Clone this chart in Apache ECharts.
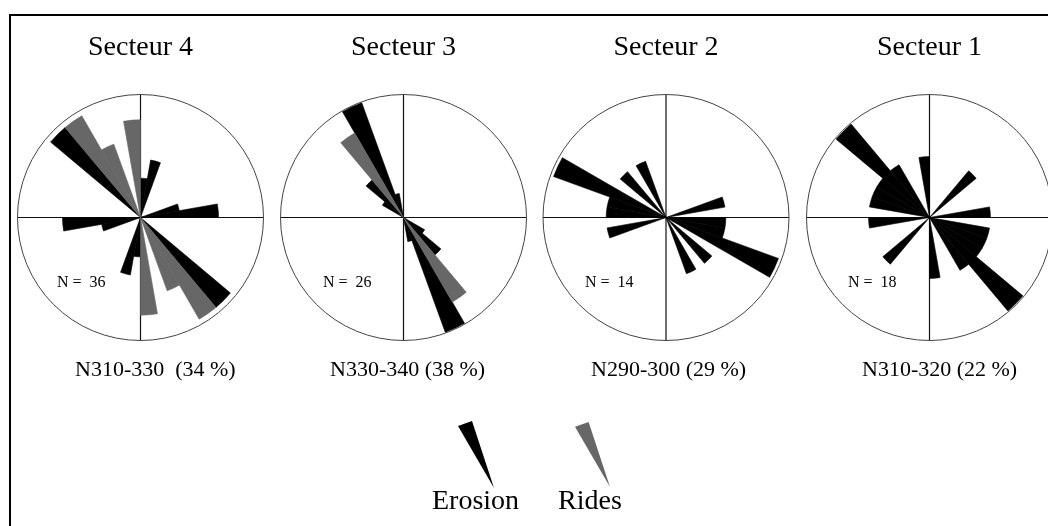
<!DOCTYPE html>
<html>
<head>
<meta charset="utf-8">
<script src="https://cdn.jsdelivr.net/npm/echarts@6/dist/echarts.min.js"></script>
<style>
  html, body { margin: 0; padding: 0; background: #fff; }
  #main { width: 1048px; height: 526px; }
</style>
</head>
<body>
<div id="main"></div>
<script>
// azimuth classes of 10 degrees, N = 0, clockwise
var bins = [];
for (var b = 0; b < 360; b += 10) bins.push(b + '-' + (b + 10));

// percentages per 10° class from 0 to 180; axial data, so each class repeats at +180
var sectorNames = ['Secteur 4', 'Secteur 3', 'Secteur 2', 'Secteur 1'];
var erosion4 = [5.6, 8.3, 0, 0, 0, 0, 0, 5.6, 11.1, 0, 0, 0, 0, 16.7, 0, 0, 0, 0];
var rides4   = [0, 0, 0, 0, 0, 0, 0, 0, 0, 0, 0, 0, 0, 0, 16.7, 11.1, 0, 13.9];
var erosion3 = [0, 0, 0, 0, 0, 0, 0, 0, 0, 0, 0, 0, 7.7, 15.4, 0, 38.5, 7.7, 0];
var rides3   = [0, 0, 0, 0, 0, 0, 0, 0, 0, 0, 0, 0, 0, 0, 30.8, 0, 0, 0];
var erosion2 = [0, 0, 0, 0, 0, 0, 0, 14.3, 0, 14.3, 14.3, 28.6, 0, 14.3, 0, 14.3, 0, 0];
var rides2   = [0, 0, 0, 0, 0, 0, 0, 0, 0, 0, 0, 0, 0, 0, 0, 0, 0, 0];
var erosion1 = [0, 0, 0, 0, 11.1, 0, 0, 0, 11.1, 0, 11.1, 11.1, 11.1, 22.2, 11.1, 0, 0, 11.1];
var rides1   = [0, 0, 0, 0, 0, 0, 0, 0, 0, 0, 0, 0, 0, 0, 0, 0, 0, 0];
var scaleMax = [17.5, 38.8, 29.4, 22.4];           // percent at the circle
var counts   = ['N =  36', 'N =  26', 'N =  14', 'N =  18'];
var modes    = ['N310-330  (34 %)', 'N330-340 (38 %)', 'N290-300 (29 %)', 'N310-320 (22 %)'];

var erosion = [erosion4, erosion3, erosion2, erosion1];
var rides = [rides4, rides3, rides2, rides1];

var centersX = [140.5, 403.5, 666, 929.5];
var modeLeft = [75, 330, 591, 862];
var countLeft = [57, 323, 585, 848];
var serif = 'Liberation Serif';

function axial(half) { return half.concat(half); }

var dom = document.getElementById('main');
var myChart = echarts.init(dom, null, { renderer: 'canvas' });

var titles = [];
var polars = [];
var angleAxes = [];
var radiusAxes = [];
var series = [];

sectorNames.forEach(function (name, k) {
    titles.push({ text: name, left: centersX[k], top: 47.5, padding: 0,
        textAlign: 'center', textVerticalAlign: 'middle',
        textStyle: { fontFamily: serif, fontSize: 28, fontWeight: 'normal', color: '#000' } });
    titles.push({ text: counts[k], left: countLeft[k], top: 282.5, padding: 0,
        textVerticalAlign: 'middle',
        textStyle: { fontFamily: serif, fontSize: 16, fontWeight: 'normal', color: '#000' } });
    titles.push({ text: modes[k], left: modeLeft[k], top: 370.5, padding: 0,
        textVerticalAlign: 'middle',
        textStyle: { fontFamily: serif, fontSize: 22, fontWeight: 'normal', color: '#000' } });

    polars.push({ center: [centersX[k], 217.5], radius: 123 });
    angleAxes.push({
        polarIndex: k,
        type: 'category',
        data: bins,
        startAngle: 90,
        clockwise: true,
        boundaryGap: true,
        axisLine: { show: true, lineStyle: { color: '#444', width: 1 } },
        axisTick: { show: true, interval: 8, length: 0, lineStyle: { opacity: 0 } },
        axisLabel: { show: false },
        splitLine: { show: true, interval: 8, lineStyle: { color: '#111', width: 1.2 } }
    });
    radiusAxes.push({
        polarIndex: k,
        type: 'value',
        min: 0,
        max: scaleMax[k],
        axisLine: { show: false },
        axisTick: { show: false },
        axisLabel: { show: false },
        splitLine: { show: false }
    });
    series.push({
        name: 'Erosion', type: 'bar', coordinateSystem: 'polar', polarIndex: k,
        data: axial(erosion[k]), barCategoryGap: '0%', barGap: '-100%',
        itemStyle: { color: '#000', borderColor: '#000', borderWidth: 0.6 }, silent: true
    });
    series.push({
        name: 'Rides', type: 'bar', coordinateSystem: 'polar', polarIndex: k,
        data: axial(rides[k]), barCategoryGap: '0%', barGap: '-100%',
        itemStyle: { color: '#676767', borderColor: '#676767', borderWidth: 0.6 }, silent: true
    });
});

titles.push({ text: 'Erosion', left: 432, top: 501.5, padding: 0, textVerticalAlign: 'middle',
    textStyle: { fontFamily: serif, fontSize: 28, fontWeight: 'normal', color: '#000' } });
titles.push({ text: 'Rides', left: 558, top: 501.5, padding: 0, textVerticalAlign: 'middle',
    textStyle: { fontFamily: serif, fontSize: 28, fontWeight: 'normal', color: '#000' } });

var wedgeIcon = 'path://M0,5L14,0L36,67Z';

var option = {
    backgroundColor: '#fff',
    animation: false,
    title: titles,
    legend: [
        { data: [{ name: 'Erosion', icon: wedgeIcon }], left: 458, top: 421, padding: 0,
          itemWidth: 36, itemHeight: 67, selectedMode: false, itemStyle: { borderWidth: 0 },
          formatter: function () { return ''; } },
        { data: [{ name: 'Rides', icon: wedgeIcon }], left: 575, top: 421, padding: 0,
          itemWidth: 35, itemHeight: 67, selectedMode: false, itemStyle: { borderWidth: 0 },
          formatter: function () { return ''; } }
    ],
    polar: polars,
    angleAxis: angleAxes,
    radiusAxis: radiusAxes,
    series: series,
    graphic: [{
        type: 'rect', silent: true,
        shape: { x: 10, y: 15, width: 1100, height: 600 },
        style: { fill: null, stroke: '#000', lineWidth: 2 }
    }]
};

if (option && typeof option === 'object') {
    myChart.setOption(option);
}
window.addEventListener('resize', myChart.resize);
</script>
</body>
</html>
